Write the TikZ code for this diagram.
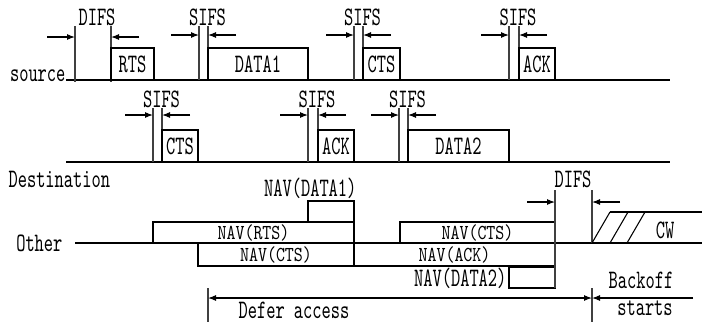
\documentclass[tikz,border=0pt]{standalone}
\usepackage{fontspec}
\newfontfamily\labfont[FakeStretch=0.66]{lmmono10-regular.otf}
\newfontfamily\navfont[FakeStretch=0.8]{lmmono10-regular.otf}
\usetikzlibrary{arrows.meta}

% Gap marker: left x, right x, top y, bottom y, arrow y, label
\newcommand{\gapmark}[6]{%
    \draw[tick] (#1,#3) -- (#1,#4);
    \draw[tick] (#2,#3) -- (#2,#4);
    \draw[tip] (#1-28,#5) -- (#1,#5);
    \draw[tip] (#2+28,#5) -- (#2,#5);
    \node[lab] at ({(#1+#2)/2+4},#3-9) {#6};
}

% Frame: corner, corner, label
\newcommand{\frm}[5]{%
    \draw (#1,#2) rectangle (#3,#4);
    \node[lab] at ({(#1+#3)/2},{(#2+#4)/2}) {#5};
}

% NAV frame: corner, corner, label
\newcommand{\navfrm}[5]{%
    \draw (#1,#2) rectangle (#3,#4);
    \node[navlab] at ({(#1+#3)/2},{(#2+#4)/2}) {#5};
}

\begin{document}
\begin{tikzpicture}[x=0.75pt, y=-0.75pt, line width=0.8pt,
    lab/.style={font=\labfont\fontsize{20}{20}\selectfont, inner sep=0pt},
    navlab/.style={font=\navfont\fontsize{16}{16}\selectfont, inner sep=0pt},
    tip/.style={-{Latex[length=6pt,width=4.5pt]}},
    tick/.style={line width=1pt, draw=black!75}]

    % Fix the margins
    \useasboundingbox (0,0) rectangle (708,322);

    % Source time line
    \draw (66,80) -- (670,80);
    \node[lab, anchor=base east] (src) at (66,81) {source};
    \gapmark{75}{111}{26}{82}{37}{DIFS}
    \frm{111}{48}{154}{80}{RTS}
    \gapmark{199}{208}{26}{80}{35}{SIFS}
    \frm{208}{48}{308}{80}{DATA1}
    \gapmark{354}{363}{26}{80}{35}{SIFS}
    \frm{363}{48}{400}{80}{CTS}
    \gapmark{509}{519}{26}{80}{35}{SIFS}
    \frm{519}{48}{555}{80}{ACK}

    % Destination time line
    \draw (66,162) -- (670,162);
    \node[lab, anchor=base west] (dst) at (8,187) {Destination};
    \gapmark{153}{162}{108}{162}{115}{SIFS}
    \frm{162}{130}{198}{162}{CTS}
    \gapmark{308}{318}{108}{162}{115}{SIFS}
    \frm{318}{130}{354}{162}{ACK}
    \gapmark{399}{408}{108}{162}{115}{SIFS}
    \frm{408}{130}{509}{162}{DATA2}

    % Other stations and their NAV
    \draw (75,243) -- (702,243);
    \node[lab, anchor=east] (oth) at (63,243) {Other};
    \navfrm{153}{222}{354}{243}{NAV(RTS)}
    \draw (308,201) rectangle (354,222);
    \node[lab, anchor=base east] (nd1) at (357,196) {NAV(DATA1)};
    \navfrm{198}{243}{354}{266}{NAV(CTS)}
    \navfrm{400}{222}{555}{243}{NAV(CTS)}
    \navfrm{354}{243}{555}{266}{NAV(ACK)}
    \draw (509,267) rectangle (555,288);
    \node[lab, anchor=east] (nd2) at (507,278) {NAV(DATA2)};

    % DIFS before the contention window
    \draw[tick] (555,190) -- (555,288);
    \draw[tick] (592,190) -- (592,243);
    \draw[tip] (527,202) -- (555,202);
    \draw[tip] (620,202) -- (592,202);
    \node[lab] at (573,179) {DIFS};

    % Contention window
    \foreach \x in {592,610,627}
        \draw (\x,243) -- (\x+18,212);
    \draw (610,212) -- (702,212);
    \node[lab] (cw) at (665,230) {CW};

    % Defer access and backoff
    \draw[tick] (208,288) -- (208,322);
    \draw[tick] (592,288) -- (592,322);
    \draw[{Latex[length=6pt,width=4.5pt]}-{Latex[length=6pt,width=4.5pt]}] (208,298) -- (592,298);
    \node[lab] (dfr) at (294,310) {Defer access};
    \draw[tip] (693,298) -- (592,298);
    \node[lab] (bo) at (641,280) {Backoff};
    \node[lab] (bs) at (645,308) {starts};

\end{tikzpicture}
\end{document}
